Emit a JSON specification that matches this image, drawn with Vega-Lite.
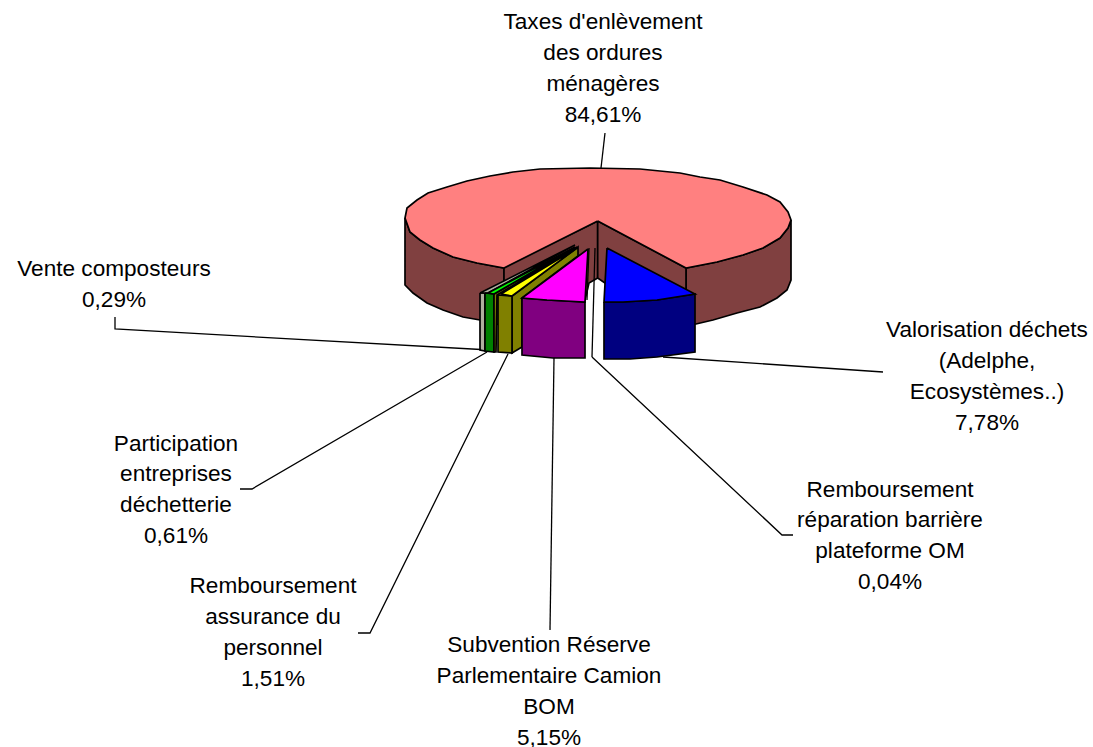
{"$schema":"https://vega.github.io/schema/vega-lite/v6.json","autosize":"none","width":1093,"height":747,"background":"white","padding":0,"config":{"view":{"stroke":null}},
"datasets":{
"outline":[
{"part":"Taxes wall side","shape":"a1","seq":1,"x":405,"y":218},{"part":"Taxes wall side","shape":"a1","seq":2,"x":410,"y":232},{"part":"Taxes wall side","shape":"a1","seq":3,"x":420,"y":240},{"part":"Taxes wall side","shape":"a1","seq":4,"x":433,"y":248},{"part":"Taxes wall side","shape":"a1","seq":5,"x":453,"y":257},{"part":"Taxes wall side","shape":"a1","seq":6,"x":477,"y":263},{"part":"Taxes wall side","shape":"a1","seq":7,"x":504,"y":268},{"part":"Taxes wall side","shape":"a1","seq":8,"x":504,"y":326},{"part":"Taxes wall side","shape":"a1","seq":9,"x":480,"y":320},{"part":"Taxes wall side","shape":"a1","seq":10,"x":463,"y":317},{"part":"Taxes wall side","shape":"a1","seq":11,"x":443,"y":310},{"part":"Taxes wall side","shape":"a1","seq":12,"x":427,"y":303},{"part":"Taxes wall side","shape":"a1","seq":13,"x":413,"y":293},{"part":"Taxes wall side","shape":"a1","seq":14,"x":405,"y":285},{"part":"Taxes wall side","shape":"a1","seq":15,"x":405,"y":218},
{"part":"Taxes wall side","shape":"a2","seq":1,"x":791,"y":220},{"part":"Taxes wall side","shape":"a2","seq":2,"x":788,"y":228},{"part":"Taxes wall side","shape":"a2","seq":3,"x":780,"y":238},{"part":"Taxes wall side","shape":"a2","seq":4,"x":763,"y":248},{"part":"Taxes wall side","shape":"a2","seq":5,"x":743,"y":255},{"part":"Taxes wall side","shape":"a2","seq":6,"x":717,"y":262},{"part":"Taxes wall side","shape":"a2","seq":7,"x":686,"y":268},{"part":"Taxes wall side","shape":"a2","seq":8,"x":686,"y":325},{"part":"Taxes wall side","shape":"a2","seq":9,"x":696,"y":324},{"part":"Taxes wall side","shape":"a2","seq":10,"x":713,"y":320},{"part":"Taxes wall side","shape":"a2","seq":11,"x":737,"y":313},{"part":"Taxes wall side","shape":"a2","seq":12,"x":760,"y":307},{"part":"Taxes wall side","shape":"a2","seq":13,"x":777,"y":298},{"part":"Taxes wall side","shape":"a2","seq":14,"x":787,"y":290},{"part":"Taxes wall side","shape":"a2","seq":15,"x":791,"y":280},{"part":"Taxes wall side","shape":"a2","seq":16,"x":791,"y":220},
{"part":"Taxes wall side","shape":"a3","seq":1,"x":597.7,"y":221},{"part":"Taxes wall side","shape":"a3","seq":2,"x":504,"y":267},{"part":"Taxes wall side","shape":"a3","seq":3,"x":504,"y":282},{"part":"Taxes wall side","shape":"a3","seq":4,"x":522,"y":300},{"part":"Taxes wall side","shape":"a3","seq":5,"x":585,"y":300},{"part":"Taxes wall side","shape":"a3","seq":6,"x":589,"y":283},{"part":"Taxes wall side","shape":"a3","seq":7,"x":597.7,"y":278},{"part":"Taxes wall side","shape":"a3","seq":8,"x":597.7,"y":221},
{"part":"Taxes wall side","shape":"a4","seq":1,"x":597.7,"y":221},{"part":"Taxes wall side","shape":"a4","seq":2,"x":686,"y":268},{"part":"Taxes wall side","shape":"a4","seq":3,"x":686,"y":292},{"part":"Taxes wall side","shape":"a4","seq":4,"x":610,"y":292},{"part":"Taxes wall side","shape":"a4","seq":5,"x":605,"y":283},{"part":"Taxes wall side","shape":"a4","seq":6,"x":597.7,"y":278},{"part":"Taxes wall side","shape":"a4","seq":7,"x":597.7,"y":221},
{"part":"Taxes top","shape":"b","seq":1,"x":597.7,"y":221},{"part":"Taxes top","shape":"b","seq":2,"x":504,"y":268},{"part":"Taxes top","shape":"b","seq":3,"x":477,"y":263},{"part":"Taxes top","shape":"b","seq":4,"x":453,"y":257},{"part":"Taxes top","shape":"b","seq":5,"x":433,"y":248},{"part":"Taxes top","shape":"b","seq":6,"x":420,"y":240},{"part":"Taxes top","shape":"b","seq":7,"x":410,"y":232},{"part":"Taxes top","shape":"b","seq":8,"x":405,"y":218},{"part":"Taxes top","shape":"b","seq":9,"x":407,"y":208},{"part":"Taxes top","shape":"b","seq":10,"x":417,"y":200},{"part":"Taxes top","shape":"b","seq":11,"x":428,"y":193},{"part":"Taxes top","shape":"b","seq":12,"x":447,"y":187},{"part":"Taxes top","shape":"b","seq":13,"x":467,"y":181},{"part":"Taxes top","shape":"b","seq":14,"x":490,"y":176},{"part":"Taxes top","shape":"b","seq":15,"x":513,"y":172},{"part":"Taxes top","shape":"b","seq":16,"x":540,"y":169},{"part":"Taxes top","shape":"b","seq":17,"x":590,"y":168},{"part":"Taxes top","shape":"b","seq":18,"x":640,"y":169},{"part":"Taxes top","shape":"b","seq":19,"x":680,"y":173},{"part":"Taxes top","shape":"b","seq":20,"x":700,"y":177},{"part":"Taxes top","shape":"b","seq":21,"x":720,"y":180},{"part":"Taxes top","shape":"b","seq":22,"x":743,"y":187},{"part":"Taxes top","shape":"b","seq":23,"x":767,"y":195},{"part":"Taxes top","shape":"b","seq":24,"x":780,"y":202},{"part":"Taxes top","shape":"b","seq":25,"x":788,"y":212},{"part":"Taxes top","shape":"b","seq":26,"x":791,"y":220},{"part":"Taxes top","shape":"b","seq":27,"x":788,"y":228},{"part":"Taxes top","shape":"b","seq":28,"x":780,"y":238},{"part":"Taxes top","shape":"b","seq":29,"x":763,"y":248},{"part":"Taxes top","shape":"b","seq":30,"x":743,"y":255},{"part":"Taxes top","shape":"b","seq":31,"x":717,"y":262},{"part":"Taxes top","shape":"b","seq":32,"x":686,"y":268},{"part":"Taxes top","shape":"b","seq":33,"x":597.7,"y":221},
{"part":"Vente front","shape":"c1","seq":1,"x":480,"y":293},{"part":"Vente front","shape":"c1","seq":2,"x":485,"y":293},{"part":"Vente front","shape":"c1","seq":3,"x":485,"y":351},{"part":"Vente front","shape":"c1","seq":4,"x":480,"y":350},{"part":"Vente front","shape":"c1","seq":5,"x":480,"y":293},
{"part":"Vente front","shape":"c2","seq":1,"x":480,"y":293},{"part":"Vente front","shape":"c2","seq":2,"x":575,"y":245},{"part":"Vente front","shape":"c2","seq":3,"x":488,"y":293},{"part":"Vente front","shape":"c2","seq":4,"x":480,"y":293},
{"part":"Participation front","shape":"d1","seq":1,"x":485,"y":293},{"part":"Participation front","shape":"d1","seq":2,"x":494,"y":294},{"part":"Participation front","shape":"d1","seq":3,"x":494,"y":352},{"part":"Participation front","shape":"d1","seq":4,"x":485,"y":351},{"part":"Participation front","shape":"d1","seq":5,"x":485,"y":293},
{"part":"Participation side","shape":"d2","seq":1,"x":494,"y":294},{"part":"Participation side","shape":"d2","seq":2,"x":577,"y":247},{"part":"Participation side","shape":"d2","seq":3,"x":497,"y":295},{"part":"Participation side","shape":"d2","seq":4,"x":496,"y":352},{"part":"Participation side","shape":"d2","seq":5,"x":494,"y":352},{"part":"Participation side","shape":"d2","seq":6,"x":494,"y":294},
{"part":"Participation top","shape":"d3","seq":1,"x":488,"y":293},{"part":"Participation top","shape":"d3","seq":2,"x":494,"y":294},{"part":"Participation top","shape":"d3","seq":3,"x":575,"y":247},{"part":"Participation top","shape":"d3","seq":4,"x":488,"y":293},
{"part":"Assurance side","shape":"e1","seq":1,"x":512,"y":296},{"part":"Assurance side","shape":"e1","seq":2,"x":578,"y":247},{"part":"Assurance side","shape":"e1","seq":3,"x":578,"y":256},{"part":"Assurance side","shape":"e1","seq":4,"x":522,"y":298},{"part":"Assurance side","shape":"e1","seq":5,"x":522,"y":347},{"part":"Assurance side","shape":"e1","seq":6,"x":512,"y":353},{"part":"Assurance side","shape":"e1","seq":7,"x":512,"y":296},
{"part":"Assurance side","shape":"e2","seq":1,"x":498,"y":295},{"part":"Assurance side","shape":"e2","seq":2,"x":512,"y":296},{"part":"Assurance side","shape":"e2","seq":3,"x":512,"y":353},{"part":"Assurance side","shape":"e2","seq":4,"x":498,"y":352},{"part":"Assurance side","shape":"e2","seq":5,"x":498,"y":295},
{"part":"Assurance top","shape":"e3","seq":1,"x":501,"y":294},{"part":"Assurance top","shape":"e3","seq":2,"x":512,"y":296},{"part":"Assurance top","shape":"e3","seq":3,"x":577,"y":248},{"part":"Assurance top","shape":"e3","seq":4,"x":501,"y":294},
{"part":"Subvention front","shape":"f1","seq":1,"x":522,"y":298},{"part":"Subvention front","shape":"f1","seq":2,"x":547,"y":300},{"part":"Subvention front","shape":"f1","seq":3,"x":585,"y":302},{"part":"Subvention front","shape":"f1","seq":4,"x":585,"y":358},{"part":"Subvention front","shape":"f1","seq":5,"x":553,"y":358},{"part":"Subvention front","shape":"f1","seq":6,"x":522,"y":355},{"part":"Subvention front","shape":"f1","seq":7,"x":522,"y":298},
{"part":"Subvention top","shape":"f2","seq":1,"x":588,"y":249},{"part":"Subvention top","shape":"f2","seq":2,"x":522,"y":298},{"part":"Subvention top","shape":"f2","seq":3,"x":547,"y":300},{"part":"Subvention top","shape":"f2","seq":4,"x":585,"y":302},{"part":"Subvention top","shape":"f2","seq":5,"x":588,"y":249},
{"part":"Valorisation front","shape":"g1","seq":1,"x":604,"y":302},{"part":"Valorisation front","shape":"g1","seq":2,"x":623,"y":302},{"part":"Valorisation front","shape":"g1","seq":3,"x":657,"y":300},{"part":"Valorisation front","shape":"g1","seq":4,"x":695,"y":294},{"part":"Valorisation front","shape":"g1","seq":5,"x":695,"y":352},{"part":"Valorisation front","shape":"g1","seq":6,"x":657,"y":357},{"part":"Valorisation front","shape":"g1","seq":7,"x":630,"y":359},{"part":"Valorisation front","shape":"g1","seq":8,"x":604,"y":359},{"part":"Valorisation front","shape":"g1","seq":9,"x":604,"y":302},
{"part":"Valorisation top","shape":"g2","seq":1,"x":607,"y":248},{"part":"Valorisation top","shape":"g2","seq":2,"x":695,"y":294},{"part":"Valorisation top","shape":"g2","seq":3,"x":657,"y":300},{"part":"Valorisation top","shape":"g2","seq":4,"x":623,"y":302},{"part":"Valorisation top","shape":"g2","seq":5,"x":604,"y":302},{"part":"Valorisation top","shape":"g2","seq":6,"x":607,"y":248}
],
"leaders":[
{"to":"Taxes","seq":1,"x":605,"y":133},{"to":"Taxes","seq":2,"x":601,"y":168},
{"to":"Vente","seq":1,"x":115,"y":317},{"to":"Vente","seq":2,"x":115,"y":329},{"to":"Vente","seq":3,"x":481,"y":349.5},
{"to":"Participation","seq":1,"x":240,"y":489},{"to":"Participation","seq":2,"x":252,"y":489},{"to":"Participation","seq":3,"x":487,"y":352},
{"to":"Assurance","seq":1,"x":358,"y":633},{"to":"Assurance","seq":2,"x":370,"y":633},{"to":"Assurance","seq":3,"x":508,"y":354},
{"to":"Subvention","seq":1,"x":550,"y":630},{"to":"Subvention","seq":2,"x":554,"y":358},
{"to":"Barriere thin","seq":1,"x":595,"y":248},{"to":"Barriere thin","seq":2,"x":592,"y":357},
{"to":"Barriere thin 2","seq":1,"x":589,"y":248},{"to":"Barriere thin 2","seq":2,"x":587,"y":300},
{"to":"Barriere","seq":1,"x":592,"y":357},{"to":"Barriere","seq":2,"x":782,"y":535},{"to":"Barriere","seq":3,"x":793,"y":535},
{"to":"Valorisation","seq":1,"x":663,"y":357},{"to":"Valorisation","seq":2,"x":883,"y":372}
],
"labels":[
{"label":"Taxes d'enlèvement\ndes ordures\nménagères\n84,61%","x":603,"y":22},
{"label":"Vente composteurs\n0,29%","x":114,"y":269},
{"label":"Participation\nentreprises\ndéchetterie\n0,61%","x":176,"y":443.5},
{"label":"Remboursement\nassurance du\npersonnel\n1,51%","x":273,"y":586},
{"label":"Subvention Réserve\nParlementaire Camion\nBOM\n5,15%","x":549,"y":645},
{"label":"Remboursement\nréparation barrière\nplateforme OM\n0,04%","x":890,"y":489.5},
{"label":"Valorisation déchets\n(Adelphe,\nEcosystèmes..)\n7,78%","x":987,"y":330}
]},
"layer":[
{"data":{"name":"outline"},"mark":{"type":"line","filled":true,"stroke":"black","strokeWidth":1.7,"strokeJoin":"miter","interpolate":"linear"},
"encoding":{"x":{"field":"x","type":"quantitative","scale":{"domain":[0,1093],"nice":false},"axis":null},"y":{"field":"y","type":"quantitative","scale":{"domain":[747,0],"nice":false},"axis":null},"order":{"field":"seq","type":"quantitative"},"detail":{"field":"shape"},
"fill":{"field":"part","type":"nominal","legend":null,"scale":{"domain":["Taxes top","Taxes wall side","Vente front","Participation front","Participation side","Participation top","Assurance side","Assurance top","Subvention front","Subvention top","Valorisation front","Valorisation top"],"range":["#FF8080","#804040","#B0B0A0","#008000","#808000","#00FF00","#808000","#FFFF00","#800080","#FF00FF","#000080","#0000FF"]}}}},
{"data":{"name":"leaders"},"mark":{"type":"line","stroke":"black","strokeWidth":1.3},
"encoding":{"x":{"field":"x","type":"quantitative","scale":{"domain":[0,1093],"nice":false},"axis":null},"y":{"field":"y","type":"quantitative","scale":{"domain":[747,0],"nice":false},"axis":null},"order":{"field":"seq","type":"quantitative"},"detail":{"field":"to"}}},
{"data":{"name":"labels"},"mark":{"type":"text","font":"Liberation Sans","fontSize":22.6,"lineBreak":"\n","lineHeight":30.9,"align":"center","baseline":"middle","fill":"black"},
"encoding":{"x":{"field":"x","type":"quantitative","scale":{"domain":[0,1093],"nice":false},"axis":null},"y":{"field":"y","type":"quantitative","scale":{"domain":[747,0],"nice":false},"axis":null},"text":{"field":"label"}}}
]}
